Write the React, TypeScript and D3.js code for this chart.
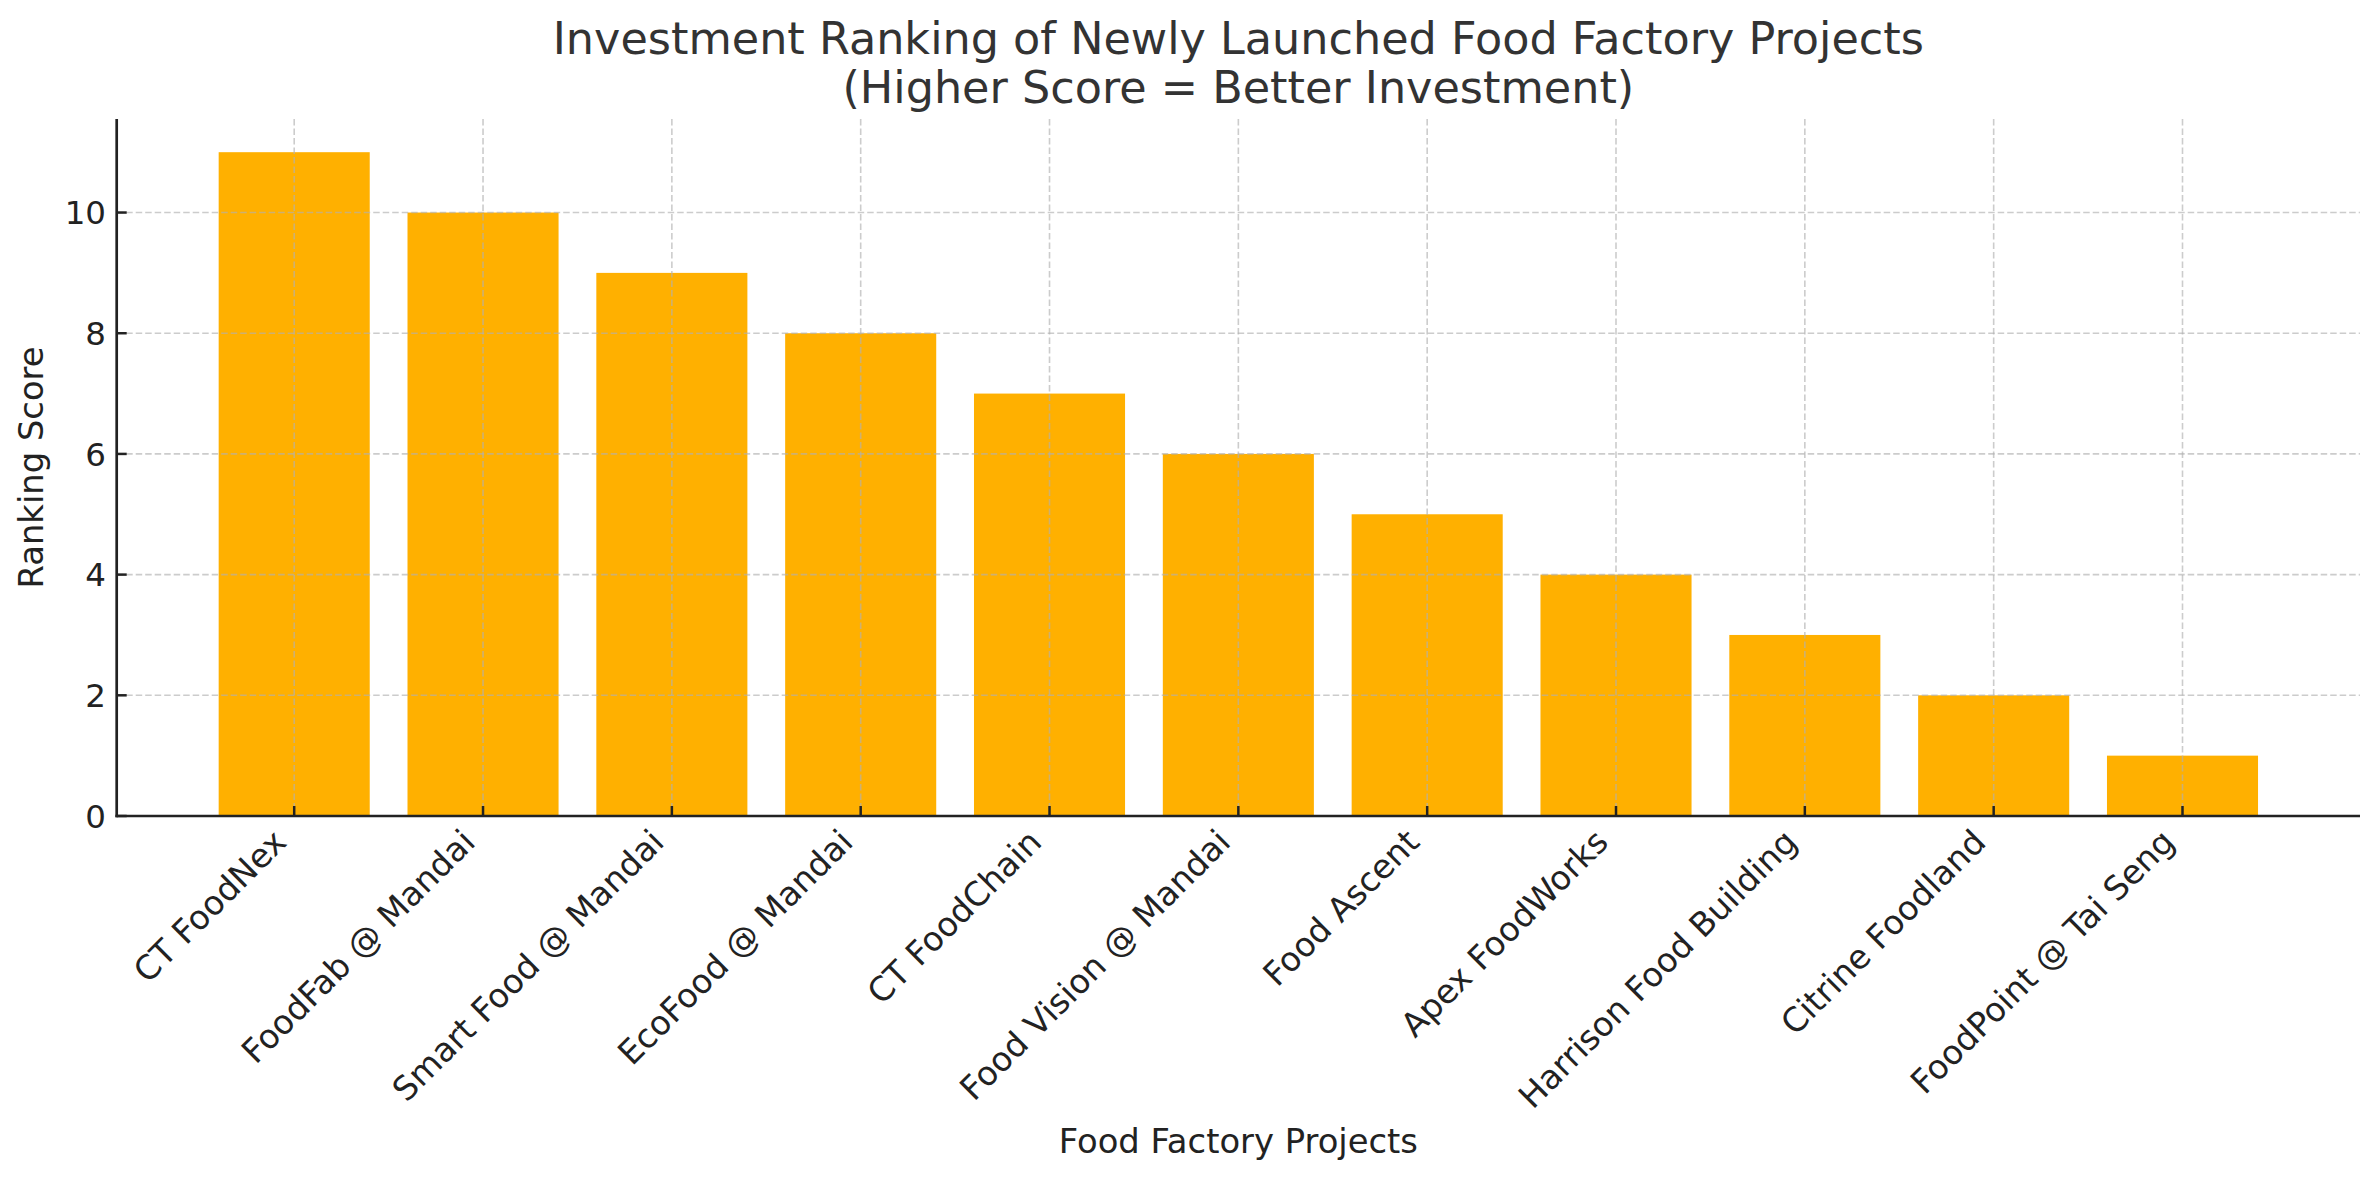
import React from "react";
import * as d3 from "d3";

const projects = [
  "CT FoodNex",
  "FoodFab @ Mandai",
  "Smart Food @ Mandai",
  "EcoFood @ Mandai",
  "CT FoodChain",
  "Food Vision @ Mandai",
  "Food Ascent",
  "Apex FoodWorks",
  "Harrison Food Building",
  "Citrine Foodland",
  "FoodPoint @ Tai Seng",
];
const scores = [11, 10, 9, 8, 7, 6, 5, 4, 3, 2, 1];
const yTicks = [0, 2, 4, 6, 8, 10];
const titleLines = [
  "Investment Ranking of Newly Launched Food Factory Projects",
  "(Higher Score = Better Investment)",
];
const xLabel = "Food Factory Projects";
const yLabel = "Ranking Score";

const W = 2379;
const H = 1180;
const left = 116.7;
const right = 2360;
const top = 119;
const bottom = 816;
const FONT = "'DejaVu Sans', sans-serif";
const BAR = "#FFB000";

export default function App() {
  const x = d3
    .scaleBand<string>()
    .domain(projects)
    .range([left, right])
    .paddingInner(0.2)
    .paddingOuter(0.54);
  const yMax = d3.max(scores)! * 1.05;
  const y = d3.scaleLinear().domain([0, yMax]).range([bottom, top]);
  const center = (p: string) => x(p)! + x.bandwidth() / 2;

  return (
    <svg
      width={W}
      height={H}
      style={{ position: "absolute", left: 0, top: 0, background: "#fff" }}
      fontFamily={FONT}
    >
      <rect x={0} y={0} width={W} height={H} fill="#fff" />
      {/* title */}
      {titleLines.map((t, i) => (
        <text
          key={t}
          x={(left + right) / 2}
          y={54 + i * 49}
          textAnchor="middle"
          fontSize={44.5}
          fill="#333333"
        >
          {t}
        </text>
      ))}
      {/* bars */}
      {projects.map((p, i) => (
        <rect
          key={p}
          x={x(p)}
          y={y(scores[i])}
          width={x.bandwidth()}
          height={bottom - y(scores[i])}
          fill={BAR}
        />
      ))}
      {/* grid */}
      <g stroke="#b0b0b0" strokeOpacity={0.65} strokeWidth={1.6} strokeDasharray="6.5,3">
        {yTicks.map((t) => (
          <line key={"gy" + t} x1={left} x2={right} y1={y(t)} y2={y(t)} />
        ))}
        {projects.map((p) => (
          <line key={"gx" + p} x1={center(p)} x2={center(p)} y1={top} y2={bottom} />
        ))}
      </g>
      {/* ticks */}
      <g stroke="#222" strokeWidth={2.5}>
        {yTicks.map((t) => (
          <line key={"ty" + t} x1={left} x2={left + 10} y1={y(t)} y2={y(t)} />
        ))}
        {projects.map((p) => (
          <line key={"tx" + p} x1={center(p)} x2={center(p)} y1={bottom} y2={bottom - 10} />
        ))}
      </g>
      {/* spines */}
      <line x1={left} x2={left} y1={top} y2={bottom + 1.3} stroke="#222" strokeWidth={2.7} />
      <line x1={left - 1.3} x2={right} y1={bottom} y2={bottom} stroke="#222" strokeWidth={2.7} />
      {/* y tick labels */}
      {yTicks.map((t) => (
        <text
          key={"ly" + t}
          x={106}
          y={y(t)}
          dy="0.36em"
          textAnchor="end"
          fontSize={32.5}
          fill="#222"
        >
          {t}
        </text>
      ))}
      {/* x tick labels */}
      {projects.map((p) => {
        const px = center(p) - 6;
        const py = 844;
        return (
          <text
            key={"lx" + p}
            x={px}
            y={py}
            textAnchor="end"
            fontSize={33.3}
            fill="#222"
            transform={`rotate(-45, ${px}, ${py})`}
          >
            {p}
          </text>
        );
      })}
      {/* axis labels */}
      <text x={(left + right) / 2} y={1153} textAnchor="middle" fontSize={33.8} fill="#222">
        {xLabel}
      </text>
      <text
        x={43.3}
        y={(top + bottom) / 2}
        textAnchor="middle"
        fontSize={33.8}
        fill="#222"
        transform={`rotate(-90, 43.3, ${(top + bottom) / 2})`}
      >
        {yLabel}
      </text>
    </svg>
  );
}
